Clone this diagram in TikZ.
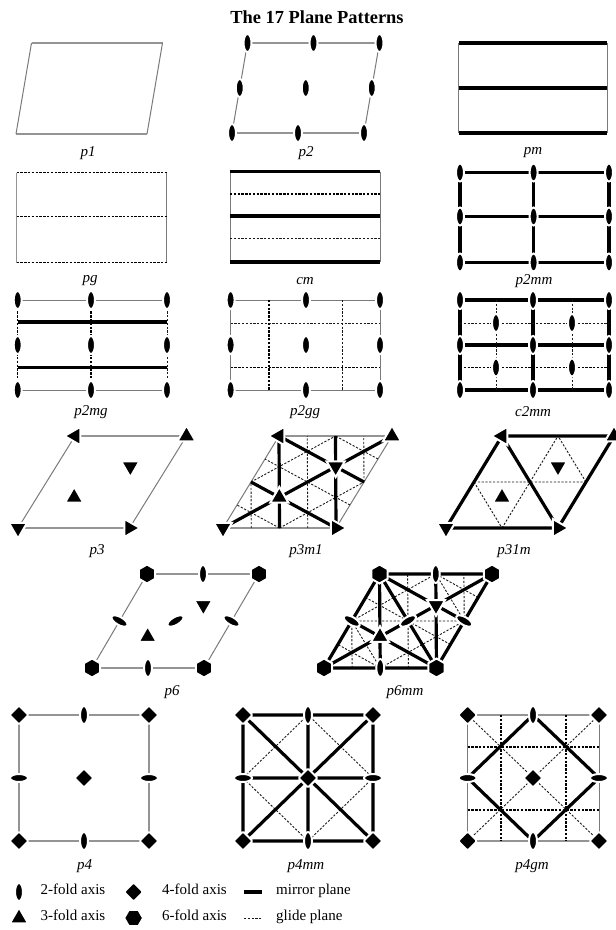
\documentclass[tikz,border=0pt]{standalone}
\usepackage{fontspec}
\setmainfont{Liberation Serif}
\usetikzlibrary{shapes.geometric}
\tikzset{
  cella/.style={draw=black!42,line width=1.8},
  cellb/.style={draw=black!52,line width=1.0},
  mir/.style={draw=black,line width=3.2},
  gld/.style={draw=black!90,line width=0.9,dash pattern=on 2.2pt off 1.6pt},
  gldb/.style={draw=black,line width=1.5,dash pattern=on 2.4pt off 1.4pt},
  symbase/.style={fill=black,draw=white,line width=2,inner sep=0pt},
  symtwo/.style={symbase,ellipse,minimum width=8,minimum height=18},
  symfour/.style={symbase,diamond,minimum width=20,minimum height=20,rounded corners=1.5},
  symsix/.style={symbase,regular polygon,regular polygon sides=6,shape border rotate=30,minimum size=19},
  triU/.style={symbase,regular polygon,regular polygon sides=3,minimum size=21},
  triD/.style={triU,shape border rotate=180},
  triL/.style={triU,shape border rotate=90},
  triR/.style={triU,shape border rotate=270},
  capt/.style={font=\itshape\fontsize{15}{17}\selectfont,inner sep=0pt},
  legt/.style={font=\fontsize{15}{17}\selectfont,inner sep=0pt,anchor=mid west},
}
\newcommand\hexgrid{\foreach \i in {0,...,4}\foreach \j in {0,...,4}\coordinate (h\i\j) at (\i/4,\j/4);}
\newcommand\rectgrid[3]{\foreach \xx [count=\i] in {#2}\foreach \yy [count=\j] in {#3}\coordinate (#1\i\j) at (\xx,\yy);}
\newcommand\symsat[3]{\foreach \cc [count=\k] in {#3}\node[#1] (#2\k) at (\cc) {};}
\newcommand\cellframe[2]{\draw[#1] (h04)--(h44) (h00)--(h40);\draw[#2] (h00)--(h04) (h40)--(h44);}
\newcommand\threefold[1]{%
  \node[triD] (#1a) at (0,0) {};\node[triR] (#1b) at (1,0) {};
  \node[triL] (#1c) at (0,1) {};\node[triU] (#1d) at (1,1) {};
  \node[triU] (#1e) at (1/3,1/3) {};\node[triD] (#1f) at (2/3,2/3) {};}
\newcommand\mglines{%
  \draw[gld] (h10)--(h02) (h30)--(h14) (h42)--(h34)
             (h02)--(h24) (h20)--(h42)
             (h20)--(h01) (h41)--(h03) (h43)--(h24);}
\newcommand\mmirrors{%
  \draw[mir] (h00)--(h44) (h20)--(h04) (h40)--(h24) (h04)--(h42) (h02)--(h40);}
\newcommand\sixfold[1]{%
  \node[triU] (#1e) at (1/3,1/3) {};\node[triD] (#1f) at (2/3,2/3) {};
  \symsat{symsix}{#1s}{h00,h40,h04,h44}
  \symsat{symtwo}{#1v}{h20,h24}
  \symsat{symtwo,rotate=60}{#1l}{h02,h42}
  \node[symtwo,rotate=-60] (#1c) at (h22) {};}
\begin{document}
\begin{tikzpicture}[x=1pt,y=-1pt]
\useasboundingbox (0,0) rectangle (616,930);
\node[font=\bfseries\fontsize{18.4}{20}\selectfont,inner sep=0pt] (title) at (317,17) {The 17 Plane Patterns};

% p1
\begin{scope}[shift={(16,134)},x={(131pt,0pt)},y={(15.5pt,91pt)}]
\hexgrid \cellframe{cella}{cellb}
\end{scope}
\node[capt] (lp1) at (88,153) {p1};

% p2
\begin{scope}[shift={(232,133)},x={(132pt,0pt)},y={(15.5pt,90pt)}]
\hexgrid \cellframe{cella}{cellb}
\symsat{symtwo}{ptwo}{h00,h20,h40,h02,h22,h42,h04,h24,h44}
\end{scope}
\node[capt] (lp2) at (306,153) {p2};

% pm
\rectgrid{a}{458.5,607}{43,88,133}
\draw[cellb] (a11)--(a13) (a21)--(a23);
\draw[mir] (a11)--(a21) (a12)--(a22) (a13)--(a23);
\node[capt] (lpm) at (533,153) {pm};

% pg
\rectgrid{b}{16.5,166.6}{172.5,216.5,262.5}
\draw[cella] (b11)--(b13);
\draw[cellb] (b21)--(b23);
\draw[gldb] (b11)--(b21) (b12)--(b22) (b13)--(b23);
\node[capt] (lpg) at (90,281) {pg};

% cm
\rectgrid{c}{230,380}{171.5,194,216,238,262}
\draw[cellb] (c11)--(c15) (c21)--(c25);
\draw[mir] (c11)--(c21) (c13)--(c23) (c15)--(c25);
\draw[gldb] (c12)--(c22);
\draw[gld] (c14)--(c24);
\node[capt] (lcm) at (305,281) {cm};

% p2mm
\rectgrid{d}{460,533.6,609}{172.5,216.5,262.5}
\draw[mir] (d11)--(d31) (d12)--(d32) (d13)--(d33) (d11)--(d13) (d21)--(d23) (d31)--(d33);
\symsat{symtwo}{dtwo}{d11,d21,d31,d12,d22,d32,d13,d23,d33}
\node[capt] (lpmm) at (534,281) {p2mm};

% p2mg
\rectgrid{e}{17.7,91,167}{300,322,345,367.5,390}
\draw[cellb] (e11)--(e31) (e15)--(e35);
\draw[gldb] (e11)--(e15) (e21)--(e25);
\draw[gld] (e31)--(e35);
\draw[mir] (e12)--(e32) (e14)--(e34);
\symsat{symtwo}{etwo}{e11,e21,e31,e13,e23,e33,e15,e25,e35}
\node[capt] (lpmg) at (91,412) {p2mg};

% p2gg
\rectgrid{g}{230.6,269,306,342.6,380}{300,323,345,367.5,390}
\draw[cellb] (g11)--(g51) (g15)--(g55) (g11)--(g15) (g51)--(g55);
\draw[gldb] (g21)--(g25) (g14)--(g54);
\draw[gld] (g41)--(g45) (g12)--(g52);
\symsat{symtwo}{gtwo}{g11,g31,g51,g13,g33,g53,g15,g35,g55}
\node[capt] (lpgg) at (305,412) {p2gg};

% c2mm
\rectgrid{k}{460,496,533,572,609}{300,323,345,367.5,390}
\draw[mir] (k11)--(k51) (k13)--(k53) (k15)--(k55) (k11)--(k15) (k31)--(k35) (k51)--(k55);
\draw[gld] (k21)--(k25) (k41)--(k45) (k12)--(k52);
\draw[gldb] (k14)--(k54);
\symsat{symtwo}{ktwo}{k11,k31,k51,k13,k33,k53,k15,k35,k55,k22,k42,k24,k44}
\node[capt] (lcmm) at (533,412) {c2mm};

% p3
\begin{scope}[shift={(18,528)},x={(111.5pt,0pt)},y={(57pt,92pt)}]
\hexgrid \cellframe{cella}{cellb}
\threefold{pthree}
\end{scope}
\node[capt] (lpthree) at (97,551) {p3};

% p3m1
\begin{scope}[shift={(223,528)},x={(113pt,0pt)},y={(56pt,92pt)}]
\hexgrid \cellframe{cella}{cellb}
\mglines \mmirrors
\threefold{pm}
\end{scope}
\node[capt] (lpmone) at (306,551) {p3m1};

% p31m
\begin{scope}[shift={(446,528)},x={(112pt,0pt)},y={(56pt,92pt)}]
\hexgrid
\draw[gld] (h02)--(h42) (h02)--(h20) (h20)--(h22) (h22)--(h24) (h42)--(h24);
\draw[mir] (h00)--(h40)--(h44)--(h04)--(h00) (h04)--(h40);
\threefold{pq}
\end{scope}
\node[capt] (lpq) at (514,551) {p31m};

% p6
\begin{scope}[shift={(92,668)},x={(112pt,0pt)},y={(55pt,94pt)}]
\hexgrid \cellframe{cella}{cellb}
\sixfold{px}
\end{scope}
\node[capt] (lpx) at (172,692) {p6};

% p6mm
\begin{scope}[shift={(324,668)},x={(112.5pt,0pt)},y={(55.5pt,94pt)}]
\hexgrid
\mglines
\draw[gld] (h02)--(h42) (h20)--(h02) (h42)--(h24);
\mmirrors
\draw[mir] (h00)--(h40)--(h44)--(h04)--(h00) (h04)--(h40);
\sixfold{py}
\end{scope}
\node[capt] (lpy) at (405,692) {p6mm};

% p4
\rectgrid{f}{19,84,149}{715,778,841}
\draw[cella] (f11)--(f31)--(f33)--(f13)--(f11);
\symsat{symfour}{ffour}{f11,f31,f13,f33,f22}
\symsat{symtwo}{ftwo}{f21,f23}
\symsat{symtwo,rotate=90}{fh}{f12,f32}
\node[capt] (lpf) at (84.5,866) {p4};

% p4mm
\rectgrid{m}{243,308,373}{715,778,841}
\draw[gld] (m21)--(m12)--(m23)--(m32)--(m21);
\draw[mir] (m11)--(m31)--(m33)--(m13)--(m11) (m21)--(m23) (m12)--(m32) (m11)--(m33) (m31)--(m13);
\symsat{symfour}{mfour}{m11,m31,m13,m33,m22}
\symsat{symtwo}{mtwo}{m21,m23}
\symsat{symtwo,rotate=90}{mh}{m12,m32}
\node[capt] (lpm4) at (306,866) {p4mm};

% p4gm
\rectgrid{q}{467.6,501,533,566,599}{715,747,778,810,841}
\draw[cella] (q11)--(q51) (q15)--(q55);
\draw[cellb] (q11)--(q15) (q51)--(q55);
\draw[gld] (q11)--(q55) (q51)--(q15);
\draw[gldb] (q21)--(q25) (q41)--(q45) (q12)--(q52) (q14)--(q54);
\draw[mir] (q31)--(q13)--(q35)--(q53)--(q31);
\symsat{symfour}{qfour}{q11,q51,q15,q55,q33}
\symsat{symtwo}{qtwo}{q31,q35}
\symsat{symtwo,rotate=90}{qh}{q13,q53}
\node[capt] (lpg4) at (532,866) {p4gm};

% legend
\node[symtwo] (ltwo) at (19,892) {};
\node[legt] (ttwo) at (40.5,892) {2-fold axis};
\node[symfour] (lfour) at (133.6,892) {};
\node[legt] (tfour) at (162,892) {4-fold axis};
\coordinate (mira) at (244,892); \coordinate (mirb) at (262,892);
\draw[mir] (mira)--(mirb);
\node[legt] (tmir) at (276,892) {mirror plane};
\node[triU] (lthree) at (19,918) {};
\node[legt] (tthree) at (40.5,918) {3-fold axis};
\node[symsix,shape border rotate=0] (lsix) at (133.6,918) {};
\node[legt] (tsix) at (162,918) {6-fold axis};
\coordinate (glda) at (244,918); \coordinate (gldb) at (262,918);
\draw[gld] (glda)--(gldb);
\node[legt] (tgld) at (276,918) {glide plane};
\end{tikzpicture}
\end{document}
